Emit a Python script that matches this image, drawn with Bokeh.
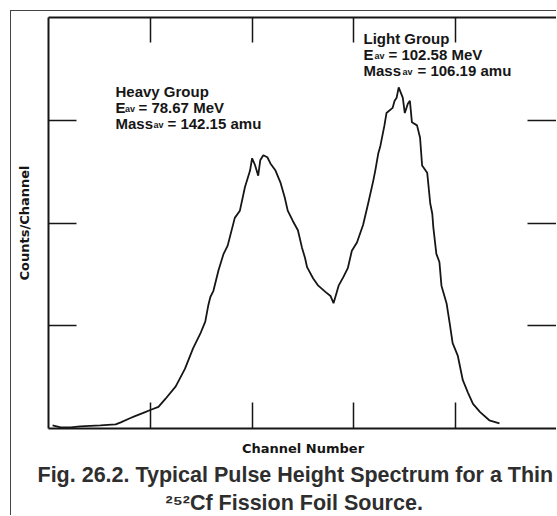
import math
from bokeh.plotting import figure
from bokeh.models import LinearAxis, FixedTicker, Label, Title
from bokeh.embed import file_html
from bokeh.resources import INLINE

# ---- data ----
channel = [4, 12, 22, 31, 51, 66, 71, 80, 85, 95, 100, 108, 115, 125, 134, 142, 149, 154,
           157, 159, 162, 167, 172, 176, 183, 188, 193, 198, 200, 203, 206, 208, 211, 215,
           218, 223, 228, 232, 235, 240, 245, 249, 252, 254, 260, 265, 272, 277, 280, 285,
           290, 294, 298, 303, 309, 314, 319, 321, 324, 326, 330, 332, 338, 340, 342, 344,
           348, 350, 353, 355, 357, 362, 365, 367, 372, 375, 377, 378, 381, 384, 386, 391,
           394, 397, 402, 407, 412, 417, 424, 433, 443]
counts = [3, 1, 1, 2, 3, 4, 6, 10, 12, 16, 18, 21, 29, 41, 58, 78, 92, 104,
          120, 128, 134, 154, 170, 178, 205, 212, 235, 251, 263, 256, 246, 261, 266, 264,
          258, 251, 239, 225, 212, 202, 193, 176, 166, 157, 146, 139, 133, 129, 122, 139,
          148, 156, 173, 181, 198, 219, 241, 251, 268, 275, 295, 307, 312, 319, 322, 332,
          322, 307, 316, 319, 298, 295, 283, 256, 249, 219, 209, 196, 170, 162, 139, 122,
          103, 83, 71, 47, 35, 24, 16, 8, 5]
x_ticks = [100, 200, 300, 400]
y_ticks = [100, 200, 300]

heavy_lines = ["Heavy Group", "78.67 MeV", "142.15 amu"]
light_lines = ["Light Group", "102.58 MeV", "106.19 amu"]
caption_1 = "Fig. 26.2.  Typical Pulse Height Spectrum for a Thin"
caption_2 = "\u00b2\u2075\u00b2Cf Fission Foil Source."

INK = "#161616"
CAP = "#2e2e2e"
FONT = "Liberation Sans"
OX = OY = 11            # page offset of the figure (outer box line at 10)
FL, FT, FR, FB = 48, 17, 557, 428   # frame edges in page pixels
DY = -6                 # baseline correction for Label text

p = figure(width=FR - OX, height=516 - OY, x_range=(0, 500), y_range=(0, 400),
           output_backend="svg", toolbar_location=None,
           min_border_left=FL - OX, min_border_right=0, min_border_top=FT - OY,
           min_border_bottom=516 - FB,
           margin=(10, 0, 0, 10),
           styles={"border-left": "1px solid #444444",
                   "border-top": "1px solid #444444"})
p.outline_line_color = None
p.xgrid.visible = False
p.ygrid.visible = False
p.background_fill_color = "white"
p.border_fill_color = "white"

p.line(channel, counts, line_color=INK, line_width=1.8)


def style_axis(ax, ticks, tick_in, show_line=True):
    ax.ticker = FixedTicker(ticks=ticks)
    ax.major_tick_in = tick_in
    ax.major_tick_out = 0
    ax.minor_tick_line_color = None
    ax.major_label_overrides = {t: "" for t in ticks}
    ax.major_label_text_font_size = "0px"
    ax.major_label_standoff = 0
    ax.axis_line_width = 2
    ax.axis_line_color = INK if show_line else None
    ax.major_tick_line_color = INK
    ax.major_tick_line_width = 1.5


bottom_ax = p.below[0]
left_ax = p.left[0]
style_axis(bottom_ax, x_ticks, 26)
style_axis(left_ax, y_ticks, 28)
top_ax = LinearAxis()
style_axis(top_ax, x_ticks, 25)
p.add_layout(top_ax, "above")
right_ax = LinearAxis()
style_axis(right_ax, y_ticks, 30, show_line=False)
p.add_layout(right_ax, "right")

bottom_ax.axis_label = "Channel Number"
bottom_ax.axis_label_standoff = 12
left_ax.axis_label = "Counts/Channel"
left_ax.axis_label_standoff = 17
for ax in (bottom_ax, left_ax):
    ax.axis_label_text_font = "DejaVu Sans"
    ax.axis_label_text_font_style = "bold"
    ax.axis_label_text_font_size = "13px"
    ax.axis_label_text_color = INK

# caption lines as titles below the axis (side panels are not clipped)
for text, off, stand in ((caption_1, 37 - FL, 4), (caption_2, 165 - FL, 0)):
    p.add_layout(Title(text=text, align="left", offset=off, standoff=stand,
                       text_font=FONT, text_font_style="bold",
                       text_font_size="21.5px", text_line_height=1.0,
                       text_color=CAP), "below")


def plab(text, px, py, size):
    # page pixel -> frame-relative screen coords of the main figure
    p.add_layout(Label(x=px - FL, y=FB - (py + DY), x_units="screen", y_units="screen",
                       text=text, text_font=FONT, text_font_style="bold",
                       text_font_size=f"{size}px", text_color=INK,
                       text_align="left", text_baseline="alphabetic"))


def group(lines, x0, y0, sub_x_e, eq_x_e, sub_x_m, eq_x_m):
    plab(lines[0], x0, y0, 15)
    plab("E", x0, y0 + 16, 15)
    plab("av", sub_x_e, y0 + 18, 9)
    plab("= " + lines[1], eq_x_e, y0 + 16, 15)
    plab("Mass", x0, y0 + 32, 15)
    plab("av", sub_x_m, y0 + 34, 9)
    plab("= " + lines[2], eq_x_m, y0 + 32, 15)


group(heavy_lines, 115, 96.5, 124.5, 138, 153, 167)
group(light_lines, 363, 43.5, 374, 388, 402, 417)

open("out.html", "w").write(file_html(p, INLINE))
